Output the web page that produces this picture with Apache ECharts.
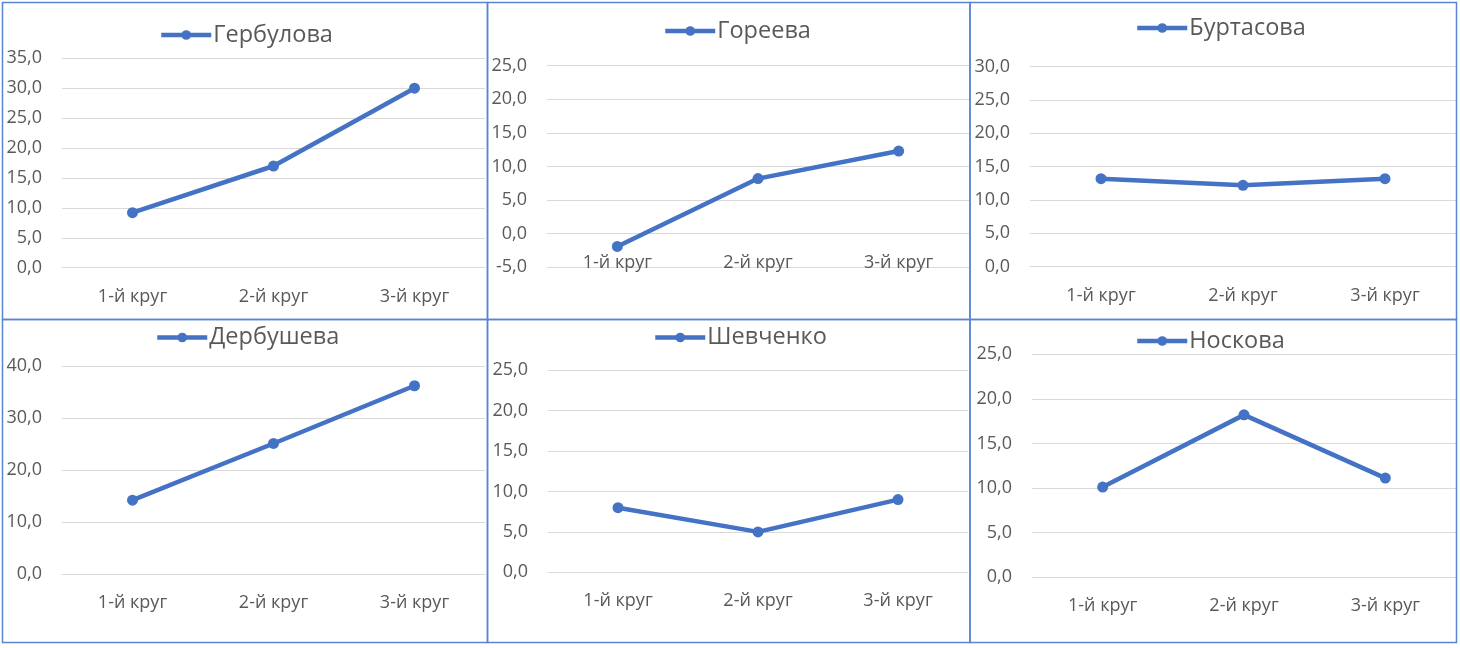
<!DOCTYPE html>
<html>
<head>
<meta charset="utf-8">
<script src="https://cdn.jsdelivr.net/npm/echarts@6/dist/echarts.min.js"></script>
<style>
html,body{margin:0;padding:0;background:#fff;}
#c{width:1460px;height:648px;}
</style>
</head>
<body>
<div id="c"></div>
<script>
const categories = ['1-й круг', '2-й круг', '3-й круг'];
const names = ['Гербулова', 'Гореева', 'Буртасова', 'Дербушева', 'Шевченко', 'Носкова'];
const gerbulova = [9.2, 17.0, 30.0];
const goreeva = [-1.9, 8.2, 12.3];
const burtasova = [13.2, 12.2, 13.2];
const derbusheva = [14.2, 25.1, 36.2];
const shevchenko = [8.0, 5.0, 9.0];
const noskova = [10.1, 18.2, 11.1];
const yMin = [0, -5, 0, 0, 0, 0];
const yMax = [35, 25, 30, 40, 25, 25];
const yStep = [5, 5, 5, 10, 5, 5];

const seriesData = [gerbulova, goreeva, burtasova, derbusheva, shevchenko, noskova];

// layout (pixels)
const grids = [
  {left: 62, top: 58.3, width: 423, height: 209.4},
  {left: 547, top: 65.7, width: 422, height: 201.6},
  {left: 1030, top: 66.7, width: 426, height: 200},
  {left: 62, top: 366, width: 423, height: 208},
  {left: 548, top: 370.3, width: 420, height: 202},
  {left: 1032, top: 354.3, width: 424, height: 222.7}
];
const legendPos = [
  {left: 159, cy: 33},
  {left: 663, cy: 29},
  {left: 1135, cy: 26},
  {left: 155, cy: 335.5},
  {left: 653, cy: 335.5},
  {left: 1135, cy: 339}
];
const panels = [
  [2.5, 2.5, 485, 317], [487.5, 2.5, 482.5, 317], [970, 2.5, 486.5, 317],
  [2.5, 319.5, 485, 323], [487.5, 319.5, 482.5, 323], [970, 319.5, 486.5, 323]
];

const FONT = 'Open Sans';
const LINE = '#4472C4';
const TXT = '#595959';
const GRIDC = '#d9d9d9';

// the category axis sits at value 0 (Excel style): offset it from the bottom by the scale
function zeroOffset(i) {
  const frac = (0 - yMin[i]) / (yMax[i] - yMin[i]);
  return -frac * grids[i].height;
}

const option = {
  animation: false,
  backgroundColor: '#ffffff',
  textStyle: {fontFamily: FONT},
  grid: grids.map(g => Object.assign({containLabel: false}, g)),
  xAxis: grids.map((g, i) => ({
    type: 'category',
    gridIndex: i,
    data: categories,
    boundaryGap: true,
    position: 'bottom',
    offset: zeroOffset(i),
    axisLine: {show: true, onZero: false, lineStyle: {color: GRIDC, width: 1}},
    axisTick: {show: false},
    axisLabel: {color: TXT, fontSize: 18, fontFamily: FONT, margin: 20}
  })),
  yAxis: grids.map((g, i) => ({
    type: 'value',
    gridIndex: i,
    min: yMin[i],
    max: yMax[i],
    interval: yStep[i],
    axisLine: {show: false},
    axisTick: {show: false},
    splitLine: {show: true, lineStyle: {color: GRIDC, width: 1}},
    axisLabel: {
      color: TXT, fontSize: 18, fontFamily: FONT, margin: 20,
      formatter: v => v.toFixed(1).replace('.', ',')
    }
  })),
  legend: names.map((n, i) => ({
    data: [n],
    left: legendPos[i].left,
    top: legendPos[i].cy - 10,
    padding: 0,
    itemWidth: 50,
    itemHeight: 12,
    itemGap: 0,
    lineStyle: {width: 4.5, color: LINE},
    textStyle: {color: TXT, fontSize: 23.5, fontFamily: FONT, padding: [0, 0, 0, -3]}
  })),
  series: names.map((n, i) => ({
    type: 'line',
    name: n,
    xAxisIndex: i,
    yAxisIndex: i,
    data: seriesData[i],
    symbol: 'circle',
    symbolSize: 11,
    lineStyle: {color: LINE, width: 4.5},
    itemStyle: {color: LINE},
    emphasis: {disabled: true}
  })),
  graphic: panels.map(p => ({
    type: 'rect',
    shape: {x: p[0], y: p[1], width: p[2], height: p[3]},
    style: {fill: 'none', stroke: '#5a85cf', lineWidth: 1.5},
    silent: true,
    z: 100
  }))
};

const chart = echarts.init(document.getElementById('c'));
chart.setOption(option);
</script>
</body>
</html>
